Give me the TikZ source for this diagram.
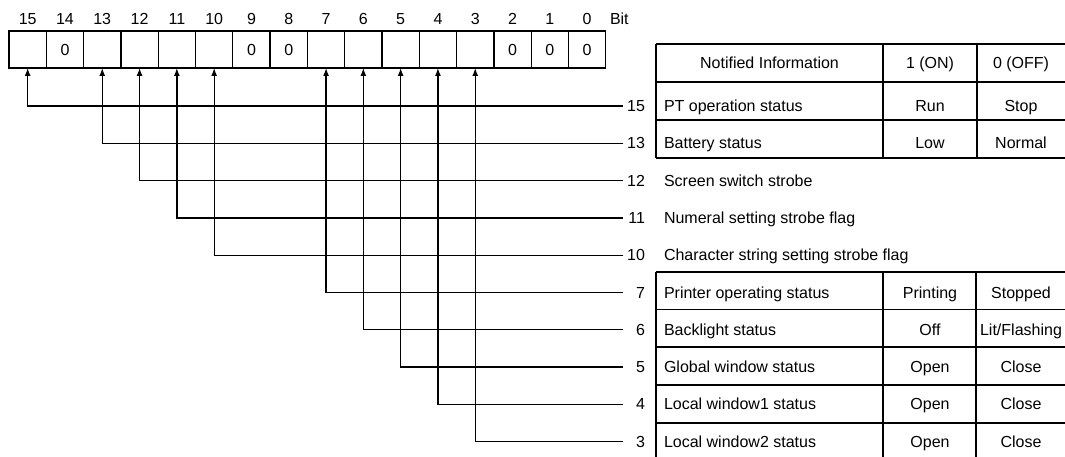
\documentclass[tikz,border=0pt]{standalone}
\usepackage{fontspec}
\setmainfont{Liberation Sans}
\usetikzlibrary{arrows.meta}
\begin{document}
\begin{tikzpicture}[x=1pt,y=-1pt,
  every node/.style={font=\fontsize{16}{18}\selectfont, inner sep=0pt, outer sep=0pt},
  cell/.style={draw, line width=1.3pt, minimum width=37.3pt, minimum height=37pt, anchor=north west},
  conn/.style={line width=1.3pt, -{Latex[length=8pt,width=6pt]}},
  rule/.style={line width=1.3pt},
  lbl/.style={anchor=base west},
  ctr/.style={anchor=base},
  num/.style={anchor=base east}]
\useasboundingbox (0,0) rectangle (1065,457);

% register cells and bit numbers
\foreach \b/\t in {15/,14/0,13/,12/,11/,10/,9/0,8/0,7/,6/,5/,4/,3/,2/0,1/0,0/0}{
  \node[cell] (c\b) at ({9+37.3*(15-\b)},31) {\t};
  \node[ctr] (b\b) at ({9+37.3*(15-\b)+18.65},24.6) {\b};
}
\node[anchor=base west] (bit) at (610,24.6) {Bit};

% connectors and numbers
\foreach \b/\k in {15/0,13/1,12/2,11/3,10/4,7/5,6/6,5/7,4/8,3/9}{
  \node[num] (n\b) at (645,{106+37.3*\k+5.5}) {\b};
  \coordinate (e\b) at (623,{106+37.3*\k});
  \draw[conn] (e\b) -| (c\b.south);
}

% table 1
\draw[rule] (656,44) -- (1065,44) (656,82) -- (1065,82) (656,120) -- (1065,120) (656,158) -- (1065,158);
\draw[rule] (656,44) -- (656,158) (883,44) -- (883,158) (977,44) -- (977,158);
\node[ctr] (h1) at (769.5,69) {Notified Information};
\node[ctr] (h2) at (930,69) {1 (ON)};
\node[ctr] (h3) at (1021,69) {0 (OFF)};
\node[lbl] (t15) at (664,111.5) {PT operation status};
\node[ctr] (on15) at (930,111.5) {Run};
\node[ctr] (off15) at (1021,111.5) {Stop};
\node[lbl] (t13) at (664,148.8) {Battery status};
\node[ctr] (on13) at (930,148.8) {Low};
\node[ctr] (off13) at (1021,148.8) {Normal};

% plain rows
\node[lbl] (t12) at (664,186.1) {Screen switch strobe};
\node[lbl] (t11) at (664,223.4) {Numeral setting strobe flag};
\node[lbl] (t10) at (664,260.7) {Character string setting strobe flag};

% table 2
\draw[rule] (656,272) -- (1065,272) (656,309.5) -- (1065,309.5) (656,347) -- (1065,347) (656,385) -- (1065,385) (656,423) -- (1065,423);
\draw[rule] (656,272) -- (656,457) (883,272) -- (883,457) (976,272) -- (976,457);
\node[lbl] (t7) at (664,298) {Printer operating status};
\node[ctr] (on7) at (930,298) {Printing};
\node[ctr] (off7) at (1021,298) {Stopped};
\node[lbl] (t6) at (664,335.3) {Backlight status};
\node[ctr] (on6) at (930,335.3) {Off};
\node[ctr] (off6) at (1021,335.3) {Lit/Flashing};
\node[lbl] (t5) at (664,372.6) {Global window status};
\node[ctr] (on5) at (930,372.6) {Open};
\node[ctr] (off5) at (1021,372.6) {Close};
\node[lbl] (t4) at (664,409.9) {Local window1 status};
\node[ctr] (on4) at (930,409.9) {Open};
\node[ctr] (off4) at (1021,409.9) {Close};
\node[lbl] (t3) at (664,447.2) {Local window2 status};
\node[ctr] (on3) at (930,447.2) {Open};
\node[ctr] (off3) at (1021,447.2) {Close};
\end{tikzpicture}
\end{document}
